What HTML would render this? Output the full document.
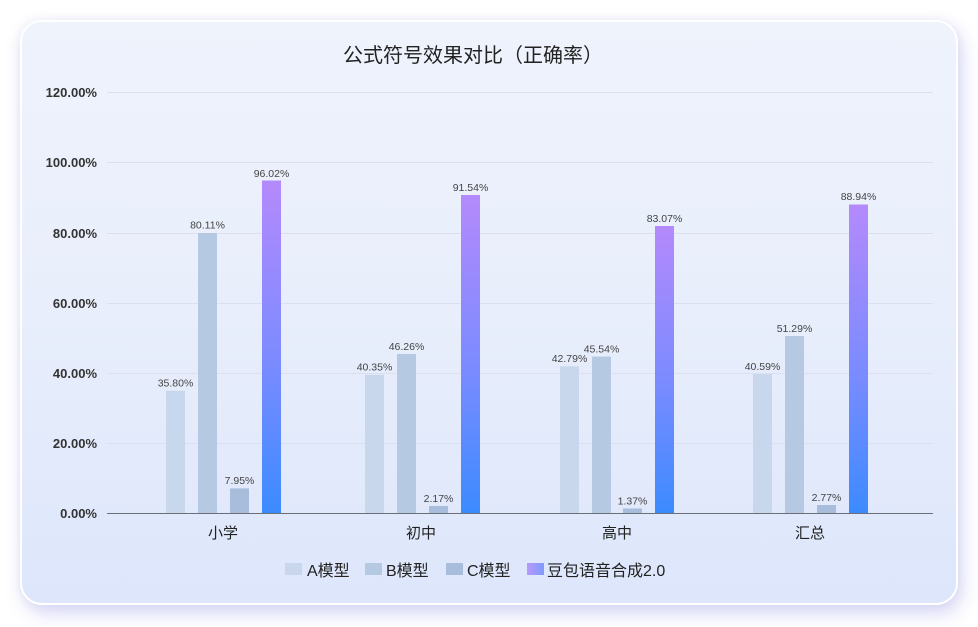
<!DOCTYPE html>
<html><head><meta charset="utf-8">
<style>
html,body{margin:0;padding:0;background:#fff;}
body{width:978px;height:627px;position:relative;overflow:hidden;font-family:"Liberation Sans","Noto Sans CJK SC",sans-serif;}
.card{position:absolute;left:20px;top:20px;width:934px;height:581px;border:2px solid #fff;border-radius:22px;
background:linear-gradient(180deg,#eff3fc 0%,#e8eefb 50%,#dde6fb 100%);
box-shadow:4px 9px 18px rgba(165,165,235,0.42),0 0 10px rgba(200,200,230,0.3);}
svg{position:absolute;left:0;top:0;}
</style></head><body>
<div class="card"></div>
<svg width="978" height="627" viewBox="0 0 978 627" xmlns="http://www.w3.org/2000/svg">
<defs>
<linearGradient id="gd" x1="0" y1="0" x2="0" y2="1">
<stop offset="0" stop-color="#b48afc"/>
<stop offset="0.55" stop-color="#7a8bff"/>
<stop offset="1" stop-color="#3c8bff"/>
</linearGradient>
<linearGradient id="gl" x1="0" y1="0" x2="1" y2="0">
<stop offset="0" stop-color="#b79afa"/>
<stop offset="1" stop-color="#7e9bfb"/>
</linearGradient>
</defs>
<text x="473" y="62" text-anchor="middle" font-size="20" fill="#222" font-family="Liberation Sans,Noto Sans CJK SC,sans-serif">公式符号效果对比（正确率）</text>
<g stroke="#d9e0ee" stroke-width="1">
<line x1="107" y1="92.5" x2="933" y2="92.5"/>
<line x1="107" y1="162.5" x2="933" y2="162.5"/>
<line x1="107" y1="233.5" x2="933" y2="233.5"/>
<line x1="107" y1="303.5" x2="933" y2="303.5"/>
<line x1="107" y1="373.5" x2="933" y2="373.5"/>
<line x1="107" y1="443.5" x2="933" y2="443.5"/>
</g>
<g font-size="13" font-weight="bold" fill="#333" text-anchor="end">
<text x="97" y="97">120.00%</text>
<text x="97" y="167">100.00%</text>
<text x="97" y="238">80.00%</text>
<text x="97" y="308">60.00%</text>
<text x="97" y="378">40.00%</text>
<text x="97" y="448">20.00%</text>
<text x="97" y="518">0.00%</text>
</g>
<g>
<rect x="166" y="390.8" width="19" height="122.2" fill="#c8d7ec"/>
<rect x="198" y="233" width="19" height="280" fill="#b6c9e2"/>
<rect x="230" y="488.4" width="19" height="24.6" fill="#a7bddb"/>
<rect x="262" y="180.5" width="19" height="332.5" fill="url(#gd)"/>

<rect x="365" y="374.8" width="19" height="138.2" fill="#c8d7ec"/>
<rect x="397" y="354" width="19" height="159" fill="#b6c9e2"/>
<rect x="429" y="506" width="19" height="7" fill="#a7bddb"/>
<rect x="461" y="195" width="19" height="318" fill="url(#gd)"/>

<rect x="560" y="366.3" width="19" height="146.7" fill="#c8d7ec"/>
<rect x="592" y="356.6" width="19" height="156.4" fill="#b6c9e2"/>
<rect x="623" y="508.5" width="19" height="4.5" fill="#a7bddb"/>
<rect x="655" y="226" width="19" height="287" fill="url(#gd)"/>

<rect x="753" y="374" width="19" height="139" fill="#c8d7ec"/>
<rect x="785" y="336" width="19" height="177" fill="#b6c9e2"/>
<rect x="817" y="505" width="19" height="8" fill="#a7bddb"/>
<rect x="849" y="204.5" width="19" height="308.5" fill="url(#gd)"/>
</g>
<line x1="107" y1="513.5" x2="933" y2="513.5" stroke="#6b6f78" stroke-width="1"/>
<g font-size="10.5" fill="#444" text-anchor="middle">
<text x="175.5" y="386.5">35.80%</text>
<text x="207.5" y="228.5">80.11%</text>
<text x="239.5" y="484">7.95%</text>
<text x="271.5" y="177">96.02%</text>

<text x="374.5" y="370.5">40.35%</text>
<text x="406.5" y="350">46.26%</text>
<text x="438.5" y="502">2.17%</text>
<text x="470.5" y="191">91.54%</text>

<text x="569.5" y="362">42.79%</text>
<text x="601.5" y="352.5">45.54%</text>
<text x="632.5" y="504.5">1.37%</text>
<text x="664.5" y="222">83.07%</text>

<text x="762.5" y="370">40.59%</text>
<text x="794.5" y="332">51.29%</text>
<text x="826.5" y="501">2.77%</text>
<text x="858.5" y="200">88.94%</text>
</g>
<g font-size="15" fill="#222" text-anchor="middle">
<text x="223" y="538">小学</text>
<text x="421" y="538">初中</text>
<text x="617" y="538">高中</text>
<text x="810" y="538">汇总</text>
</g>
<g font-size="16" fill="#222">
<rect x="285" y="563" width="17" height="12" fill="#c8d7ec"/>
<text x="307" y="576">A模型</text>
<rect x="365" y="563" width="17" height="12" fill="#b6c9e2"/>
<text x="386" y="576">B模型</text>
<rect x="446" y="563" width="17" height="12" fill="#a7bddb"/>
<text x="467" y="576">C模型</text>
<rect x="527" y="563" width="17" height="12" fill="url(#gl)"/>
<text x="547" y="576">豆包语音合成2.0</text>
</g>
</svg>
</body></html>
